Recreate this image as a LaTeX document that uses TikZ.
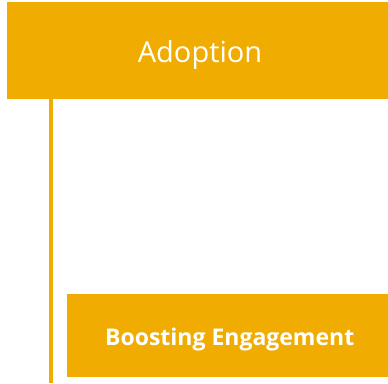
\documentclass[tikz,border=0pt]{standalone}
\usepackage{fontspec}
\setmainfont{Open Sans}
\definecolor{gold}{HTML}{F0AC00}
\begin{document}
\begin{tikzpicture}[x=1pt,y=-1pt,
  box/.style={fill=gold,draw=none,inner sep=0pt,anchor=north west},
  lbl/.style={text=white,inner sep=0pt,anchor=base}]
\useasboundingbox (0,0) rectangle (388,383);
\node[box,minimum width=381pt,minimum height=96.5pt] (topbox) at (7,2) {};
\node[lbl,font=\fontsize{29}{32}\selectfont] (adopt) at (200,62) {Adoption};
\node[box,minimum width=321pt,minimum height=83pt] (botbox) at (67,294) {};
\node[lbl,font=\fontsize{23}{26}\bfseries\selectfont] (boost) at (229.7,345) {Boosting Engagement};
\coordinate (lbot) at (51,383);
\draw[gold,line width=4.5pt] (topbox.south west -| lbot) -- (lbot);
\end{tikzpicture}
\end{document}
